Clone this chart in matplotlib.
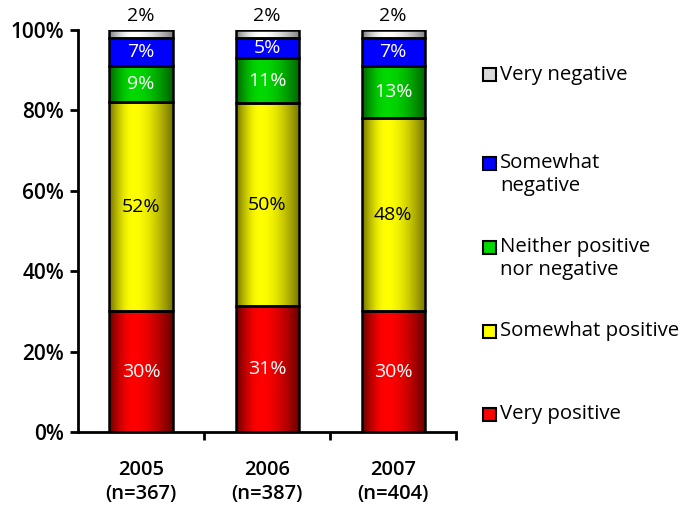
import numpy as np
import matplotlib
matplotlib.use("Agg")
import matplotlib.pyplot as plt
from matplotlib.patches import Rectangle

years = ["2005\n(n=367)", "2006\n(n=387)", "2007\n(n=404)"]
series = ["Very positive", "Somewhat positive", "Neither positive\nnor negative",
          "Somewhat\nnegative", "Very negative"]
very_pos = [30, 31, 30]
some_pos = [52, 50, 48]
neither = [9, 11, 13]
some_neg = [7, 5, 7]
very_neg = [2, 2, 2]

COLORS = [(1.0, 0.0, 0.0), (1.0, 1.0, 0.0), (0.0, 0.85, 0.0), (0.0, 0.0, 1.0), (1.0, 1.0, 1.0)]
EDGE_DARK = [0.4, 0.45, 0.45, 1.0, 0.5]   # brightness at bar edges (1.0 = flat)
TXT_COL = ["white", "black", "white", "white", "black"]

plt.rcParams["font.family"] = ["Open Sans", "DejaVu Sans"]
fig = plt.figure(figsize=(6.84, 5.08), dpi=100)
ax = fig.add_axes([0.114, 0.1496, 0.553, 0.7914])

vals = np.array([very_pos, some_pos, neither, some_neg, very_neg], dtype=float)
shares = vals / vals.sum(axis=0) * 100
x = np.arange(len(years))
w = 0.5


def shade(dark, n=200):
    t = np.linspace(0, 1, n)
    peak = 0.38
    prof = np.where(t < peak, dark + (1 - dark) * np.sin(t / peak * np.pi / 2),
                    dark + (1 - dark) * np.cos((t - peak) / (1 - peak) * np.pi / 2))
    return prof


for i in range(len(years)):
    bottom = 0
    for s in range(len(series)):
        h = shares[s, i]
        prof = shade(EDGE_DARK[s])
        c = np.array(COLORS[s])
        if s == 4:
            rgb = np.repeat(prof[:, None], 3, axis=1)
        else:
            rgb = prof[:, None] * c[None, :]
        ax.imshow(rgb[None, :, :], extent=(x[i] - w / 2, x[i] + w / 2, bottom, bottom + h),
                  aspect="auto", interpolation="bilinear", zorder=2)
        ax.add_patch(Rectangle((x[i] - w / 2, bottom), w, h, fill=False, ec="black", lw=1.8, zorder=3))
        lab = f"{int(vals[s, i])}%"
        if s == 4:
            ax.text(x[i], 101.3, lab, ha="center", va="bottom", fontsize=14, color="black", clip_on=False)
        else:
            ax.text(x[i], bottom + h / 2, lab, ha="center", va="center", fontsize=14,
                    color=TXT_COL[s], zorder=4)
        bottom += h

ax.set_xlim(-0.5, 2.5)
ax.set_ylim(0, 100)
for sp in ["top", "right"]:
    ax.spines[sp].set_visible(False)
for sp in ["left", "bottom"]:
    ax.spines[sp].set_linewidth(2)
ax.set_yticks(range(0, 101, 20))
ax.set_yticklabels([f"{v}%" for v in range(0, 101, 20)], fontsize=15, fontweight="semibold")
ax.set_xticks(x)
ax.set_xticklabels(years, fontsize=14.5, fontweight="semibold", linespacing=1.25)
ax.set_xticks([0.5, 1.5, 2.5], minor=True)
ax.tick_params(axis="x", which="major", length=0, pad=20)
ax.tick_params(axis="x", which="minor", length=6, width=2, direction="out")
ax.tick_params(axis="y", length=6, width=2, direction="out", pad=4)

# legend, drawn by hand
leg_y = [414, 331, 247, 163, 75]
for s in range(len(series)):
    y = 1 - leg_y[s] / 508
    fig.add_artist(Rectangle((483 / 684, y - 6.5 / 508), 13 / 684, 13 / 508,
                             transform=fig.transFigure, fc=COLORS[s] if s != 4 else (0.85, 0.85, 0.85),
                             ec="black", lw=1.5))
    fig.text(500 / 684, y + 10 / 508, series[s], ha="left", va="top", fontsize=14.7, linespacing=1.2)

fig.savefig("out.png", dpi=100)
